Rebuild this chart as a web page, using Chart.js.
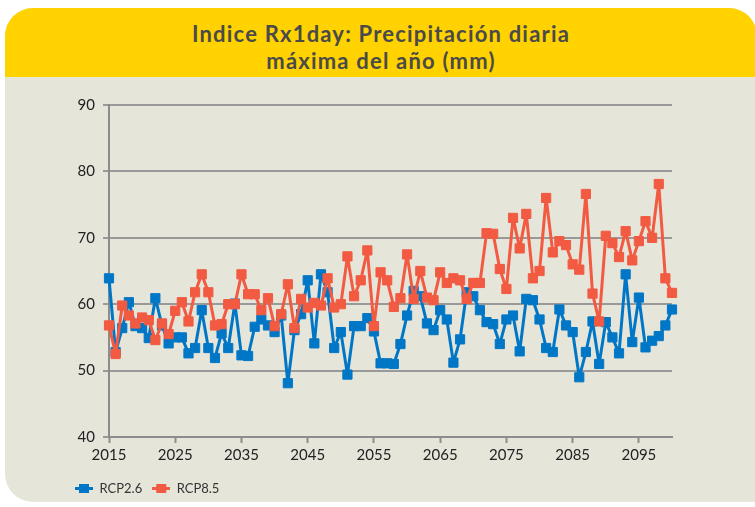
<!DOCTYPE html>
<html>
<head>
<meta charset="utf-8">
<script src="https://cdn.jsdelivr.net/npm/chart.js@4.4.1/dist/chart.umd.min.js"></script>
<style>
body{margin:0;background:#fff;width:755px;height:507px;overflow:hidden;font-family:Lato,sans-serif;}
.tarjeta{position:absolute;left:5px;top:8px;width:752px;height:494px;background:#E6E5DA;border-radius:28px 28px 0 28px;overflow:hidden;}
.cabecera{height:57px;padding-top:12px;background:#FFD200;text-align:center;color:#4A4A4A;font-weight:bold;font-size:22px;letter-spacing:1.2px;line-height:27px;}
#grafico{position:absolute;left:55px;top:88px;}
</style>
</head>
<body>
<div class="tarjeta">
<div class="cabecera">Indice Rx1day: Precipitación diaria<br>máxima del año (mm)</div>
</div>
<canvas id="grafico" width="635" height="418"></canvas>
<script>

const anios = [];
for (let a = 2015; a <= 2100; a++) anios.push(a);

const etiquetasX = [2015, 2025, 2035, 2045, 2055, 2065, 2075, 2085, 2095];

const ticksY = [40, 50, 60, 70, 80, 90];

const rcp26 = [
63.9, 52.8, 56.4, 60.3, 56.7, 56.4, 54.9, 60.9, 56.8, 54.1,
55.0, 55.0, 52.6, 53.4, 59.1, 53.4, 51.9, 55.6, 53.4, 60.1,
52.3, 52.2, 56.6, 57.7, 56.8, 55.8, 58.3, 48.1, 56.1, 58.5,
63.6, 54.1, 64.5, 61.8, 53.4, 55.8, 49.4, 56.7, 56.7, 57.9,
55.9, 51.1, 51.1, 51.0, 54.0, 58.3, 62.0, 61.2, 57.1, 56.1,
59.1, 57.7, 51.2, 54.7, 61.8, 61.2, 59.1, 57.3, 57.0, 54.0,
57.7, 58.3, 52.9, 60.8, 60.6, 57.7, 53.4, 52.8, 59.2, 56.8,
55.8, 49.0, 52.8, 57.4, 51.0, 57.3, 55.0, 52.6, 64.5, 54.3,
61.0, 53.5, 54.5, 55.2, 56.8, 59.2
];

const rcp85 = [
56.8, 52.5, 59.8, 58.3, 57.1, 58.0, 57.6, 54.6, 57.1, 55.5,
59.0, 60.3, 57.4, 61.8, 64.5, 61.8, 56.8, 57.0, 60.0, 60.0,
64.5, 61.5, 61.5, 59.1, 60.9, 56.7, 58.5, 63.0, 56.4, 60.8,
59.5, 60.2, 59.8, 63.9, 59.5, 60.0, 67.2, 61.2, 63.6, 68.1,
56.7, 64.8, 63.6, 59.6, 60.9, 67.5, 60.8, 65.0, 61.0, 60.6,
64.8, 63.2, 63.9, 63.6, 60.8, 63.2, 63.2, 70.7, 70.6, 65.3,
62.3, 73.0, 68.4, 73.6, 63.9, 65.0, 76.0, 67.8, 69.5, 68.9,
66.0, 65.2, 76.6, 61.6, 57.4, 70.3, 69.2, 67.1, 71.0, 66.6,
69.5, 72.5, 70.0, 78.1, 63.9, 61.7
];

const azul = "#0077C6";
const rojo = "#F25A42";
const colores = [azul, rojo];

// marcador de la leyenda: linea con cuadrado
function marcador(color){
  const c = document.createElement("canvas");
  c.width = 18;
  c.height = 9;
  const g = c.getContext("2d");
  g.fillStyle = color;
  g.fillRect(0, 3, 18, 3);
  g.fillRect(4, 0, 10, 9);
  return c;
}

function serie(nombre, datos, color, orden){
  return {
    label: nombre,
    data: datos,
    borderColor: color,
    backgroundColor: color,
    borderWidth: 3,
    borderJoinStyle: "round",
    pointStyle: "rect",
    pointRadius: 6.5,
    pointHoverRadius: 6.5,
    pointBackgroundColor: color,
    pointBorderColor: color,
    pointBorderWidth: 1,
    tension: 0,
    order: orden
  };
}

new Chart(document.getElementById("grafico"), {
  type: "line",
  data: {
    labels: anios,
    datasets: [
      serie("RCP2.6", rcp26, azul, 2),
      serie("RCP8.5", rcp85, rojo, 1)
    ]
  },
  options: {
    responsive: false,
    animation: false,
    devicePixelRatio: 1,
    layout: {padding: {top: 17, right: 18, left: 10, bottom: 1}},
    plugins: {
      tooltip: {enabled: false},
      legend: {
        position: "bottom",
        align: "start",
        labels: {
          usePointStyle: true,
          pointStyleWidth: 18,
          padding: 10,
          color: "#333",
          font: {family: "Lato", size: 13},
          sort: (a, b) => a.datasetIndex - b.datasetIndex,
          generateLabels(chart){
            const items = Chart.defaults.plugins.legend.labels.generateLabels(chart);
            items.forEach(it => { it.pointStyle = marcador(colores[it.datasetIndex]); });
            return items;
          }
        }
      }
    },
    scales: {
      x: {
        afterFit(s){ s.height = 35; },
        ticks: {
          autoSkip: false,
          maxRotation: 0,
          padding: 3,
          color: "#222",
          font: {family: "Lato", size: 15},
          callback: (v, i) => etiquetasX.includes(anios[i]) ? String(anios[i]) : ""
        },
        grid: {
          drawOnChartArea: false,
          tickLength: 6,
          tickWidth: 2,
          tickColor: ctx => etiquetasX.includes(anios[ctx.index]) ? "#8C8C8C" : "rgba(0,0,0,0)"
        },
        border: {color: "#8C8C8C", width: 2}
      },
      y: {
        min: ticksY[0],
        max: ticksY[ticksY.length - 1],
        afterFit(s){ s.width = 44; },
        afterBuildTicks(s){ s.ticks = ticksY.map(v => ({value: v})); },
        ticks: {
          padding: 8,
          color: "#222",
          font: {family: "Lato", size: 15}
        },
        grid: {color: "#999", lineWidth: 2, tickLength: 6},
        border: {color: "#8C8C8C", width: 2}
      }
    }
  }
});

</script>
</body>
</html>
